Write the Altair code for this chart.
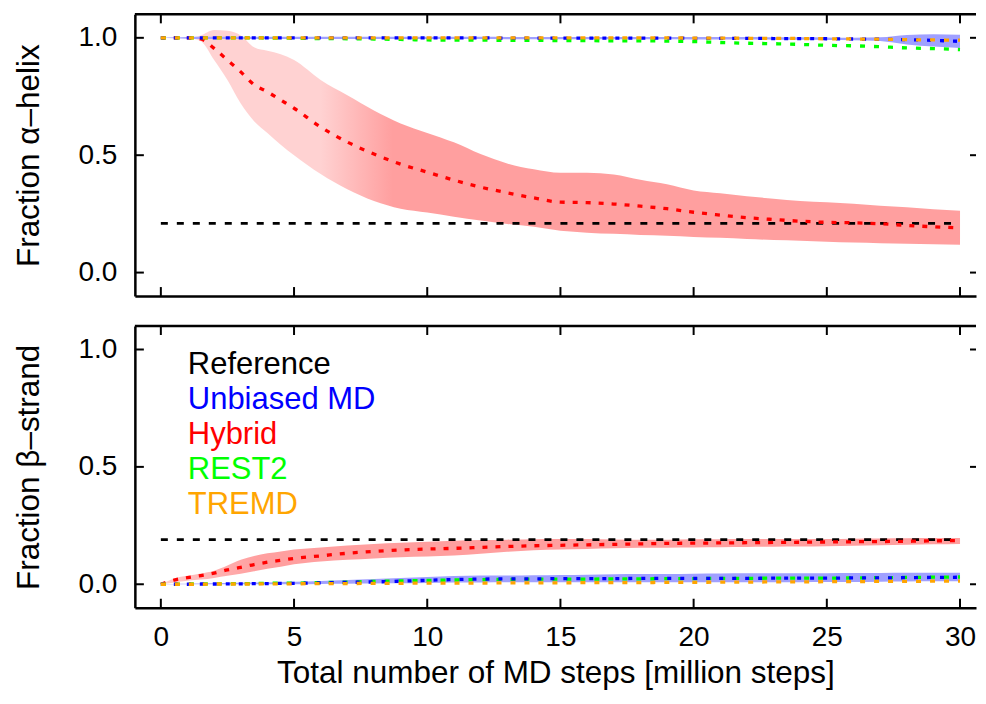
import altair as alt
import pandas as pd

# ---------------- data ----------------
X = [0, 0.5, 1, 1.5, 2, 2.5, 3, 3.5, 4, 4.5, 5, 6, 7, 8, 9, 10, 11, 12, 13, 14,
     15, 16, 17, 18, 19, 20, 21, 22, 23, 24, 25, 26, 27, 28, 29, 30]

# Fraction alpha-helix
helix_ref = 0.21
helix_hyb = [1.0, 1.0, 1.0, 0.995, 0.955, 0.905, 0.855, 0.80, 0.77, 0.735, 0.70, 0.62,
             0.556, 0.505, 0.462, 0.428, 0.394, 0.364, 0.34, 0.318, 0.30, 0.298, 0.292,
             0.283, 0.272, 0.257, 0.245, 0.234, 0.226, 0.219, 0.214, 0.212, 0.208, 0.201,
             0.195, 0.19]
helix_hyb_hi = [1.0, 1.0, 1.0, 1.01, 1.033, 1.03, 1.01, 0.96, 0.945, 0.93, 0.905, 0.82,
                0.755, 0.69, 0.635, 0.595, 0.555, 0.505, 0.465, 0.44, 0.425, 0.425, 0.418,
                0.395, 0.376, 0.35, 0.338, 0.325, 0.315, 0.305, 0.30, 0.293, 0.285, 0.278,
                0.27, 0.263]
helix_hyb_lo = [1.0, 1.0, 1.0, 0.985, 0.905, 0.82, 0.72, 0.645, 0.595, 0.545, 0.50, 0.42,
                0.355, 0.305, 0.272, 0.256, 0.238, 0.222, 0.207, 0.195, 0.178, 0.17, 0.165,
                0.16, 0.157, 0.152, 0.148, 0.143, 0.139, 0.136, 0.131, 0.128, 0.125, 0.123,
                0.121, 0.119]
helix_md = [1.0, 1.0, 1.0, 1.0, 1.0, 1.0, 1.0, 1.0, 1.0, 1.0, 1.0, 1.0, 1.0, 1.0, 1.0,
            1.0, 1.0, 1.0, 0.999, 0.999, 0.999, 0.999, 0.999, 0.999, 0.999, 0.998, 0.998,
            0.998, 0.997, 0.997, 0.996, 0.995, 0.994, 0.992, 0.989, 0.985]
helix_md_hi = [1.0, 1.002, 1.004, 1.005, 1.005, 1.005, 1.005, 1.005, 1.005, 1.005, 1.005,
               1.005, 1.005, 1.005, 1.005, 1.005, 1.005, 1.005, 1.004, 1.004, 1.004, 1.004,
               1.004, 1.004, 1.004, 1.003, 1.003, 1.003, 1.002, 1.002, 1.001, 1.0, 1.002,
               1.012, 1.015, 1.013]
helix_md_lo = [1.0, 0.998, 0.996, 0.995, 0.995, 0.995, 0.995, 0.995, 0.995, 0.995, 0.995,
               0.995, 0.995, 0.995, 0.995, 0.995, 0.995, 0.995, 0.994, 0.994, 0.994, 0.994,
               0.994, 0.994, 0.994, 0.993, 0.993, 0.993, 0.992, 0.992, 0.991, 0.99, 0.986,
               0.972, 0.963, 0.957]
helix_rest2 = [1.0, 1.0, 1.0, 1.0, 1.0, 1.0, 1.0, 1.0, 0.999, 0.999, 0.998, 0.997, 0.996,
               0.995, 0.993, 0.991, 0.99, 0.99, 0.989, 0.989, 0.988, 0.988, 0.987, 0.987,
               0.986, 0.984, 0.98, 0.977, 0.975, 0.972, 0.968, 0.966, 0.962, 0.957, 0.954,
               0.95]
helix_tremd = [1.0, 1.0, 1.0, 1.0, 1.0, 1.0, 1.0, 1.0, 1.0, 1.0, 1.0, 1.0, 1.0, 1.0, 1.0,
               1.0, 1.0, 1.0, 1.0, 1.0, 1.0, 1.0, 1.0, 1.0, 1.0, 0.999, 0.999, 0.998, 0.998,
               0.997, 0.996, 0.995, 0.994, 0.992, 0.991, 0.99]

# Fraction beta-strand
strand_ref = 0.19
strand_hyb = [0.0, 0.018, 0.028, 0.037, 0.047, 0.061, 0.072, 0.084, 0.094, 0.102, 0.11,
              0.121, 0.132, 0.14, 0.146, 0.15, 0.153, 0.157, 0.161, 0.164, 0.166, 0.168,
              0.17, 0.172, 0.174, 0.175, 0.176, 0.177, 0.178, 0.179, 0.18, 0.181, 0.182,
              0.183, 0.185, 0.186]
strand_hyb_hi = [0.0, 0.025, 0.036, 0.046, 0.058, 0.08, 0.104, 0.12, 0.132, 0.14, 0.148,
                 0.157, 0.165, 0.172, 0.177, 0.181, 0.185, 0.188, 0.19, 0.192, 0.193, 0.193,
                 0.191, 0.19, 0.19, 0.192, 0.192, 0.193, 0.193, 0.193, 0.193, 0.194, 0.195,
                 0.196, 0.197, 0.197]
strand_hyb_lo = [0.0, 0.008, 0.015, 0.02, 0.027, 0.036, 0.045, 0.055, 0.066, 0.075, 0.085,
                 0.097, 0.104, 0.11, 0.115, 0.118, 0.122, 0.13, 0.138, 0.145, 0.148, 0.15,
                 0.153, 0.155, 0.156, 0.157, 0.158, 0.159, 0.16, 0.161, 0.162, 0.164, 0.166,
                 0.168, 0.17, 0.172]
strand_md = [0.0, 0.0, 0.0, 0.001, 0.001, 0.002, 0.002, 0.003, 0.003, 0.004, 0.004, 0.006,
             0.008, 0.01, 0.013, 0.017, 0.02, 0.022, 0.023, 0.023, 0.024, 0.024, 0.024,
             0.025, 0.025, 0.025, 0.025, 0.025, 0.026, 0.026, 0.026, 0.027, 0.027, 0.028,
             0.029, 0.03]
strand_md_hi = [0.0, 0.001, 0.002, 0.003, 0.004, 0.005, 0.006, 0.007, 0.008, 0.01, 0.011,
                0.014, 0.018, 0.022, 0.027, 0.031, 0.035, 0.037, 0.037, 0.038, 0.039, 0.041,
                0.043, 0.044, 0.044, 0.045, 0.046, 0.047, 0.047, 0.047, 0.047, 0.048, 0.048,
                0.049, 0.049, 0.049]
strand_md_lo = [0.0, 0.0, 0.0, 0.0, 0.0, 0.0, 0.0, 0.0, 0.0, 0.0, 0.0, 0.001, 0.002, 0.003,
                0.004, 0.005, 0.007, 0.008, 0.009, 0.009, 0.009, 0.009, 0.009, 0.009, 0.009,
                0.009, 0.009, 0.009, 0.009, 0.009, 0.01, 0.01, 0.011, 0.012, 0.013, 0.013]
strand_rest2 = [0.0, 0.0, 0.001, 0.001, 0.002, 0.002, 0.003, 0.003, 0.004, 0.005, 0.005,
                0.007, 0.009, 0.012, 0.014, 0.016, 0.018, 0.02, 0.021, 0.022, 0.022, 0.022,
                0.023, 0.023, 0.024, 0.024, 0.025, 0.025, 0.026, 0.026, 0.026, 0.027, 0.028,
                0.029, 0.03, 0.031]
strand_tremd = [0.0, 0.0, 0.0, 0.0, 0.001, 0.001, 0.001, 0.001, 0.002, 0.002, 0.002, 0.003,
                0.003, 0.004, 0.004, 0.005, 0.005, 0.005, 0.006, 0.006, 0.006, 0.007, 0.007,
                0.007, 0.008, 0.008, 0.009, 0.009, 0.01, 0.01, 0.011, 0.011, 0.012, 0.012,
                0.013, 0.013]

legend_names = ["Reference", "Unbiased MD", "Hybrid", "REST2", "TREMD"]
legend_colors = ["#000000", "#0000ff", "#ff0000", "#00ff00", "#ffa500"]

XTICKS = [0, 5, 10, 15, 20, 25, 30]
YTICKS = [0.0, 0.5, 1.0]

# ---------------- styling ----------------
FONT = "Liberation Sans"
W, H = 842, 282
XDOM = [-0.975, 30.6]
YDOM = [-0.1, 1.1]
RED_LIGHT = "#ffd2d2"
RED_DARK = "#ff9f9f"
BLUE_BAND = "#a0a0ff"


def panel(hyb, hyb_hi, hyb_lo, md, md_hi, md_lo, rest2, tremd, ref, ytitle,
          bottom, red_stops, legend):
    df = pd.DataFrame({"x": X, "hyb": hyb, "hyb_hi": hyb_hi, "hyb_lo": hyb_lo,
                       "md": md, "md_hi": md_hi, "md_lo": md_lo,
                       "rest2": rest2, "tremd": tremd})
    xs = alt.Scale(domain=XDOM, nice=False, zero=False)
    ys = alt.Scale(domain=YDOM, nice=False, zero=False)
    if bottom:
        xaxis = alt.Axis(values=XTICKS, format="d", ticks=False, grid=False,
                         labelPadding=16, title="Total number of MD steps [million steps]",
                         titlePadding=6)
    else:
        xaxis = alt.Axis(values=XTICKS, ticks=False, grid=False, labels=False, title="")
    yaxis = alt.Axis(values=YTICKS, format=".1f", ticks=False, grid=False,
                     labelPadding=18, title=ytitle, titlePadding=33)

    def xe(field):
        return alt.X(field + ":Q", scale=xs, axis=xaxis)

    def ye(field):
        return alt.Y(field + ":Q", scale=ys, axis=yaxis)

    base = alt.Chart(df)

    red_band = base.mark_area(
        interpolate="monotone",
        color=alt.LinearGradient(
            gradient="linear",
            stops=[alt.GradientStop(color=c, offset=o) for o, c in red_stops],
            x1=0, x2=1, y1=0, y2=0),
    ).encode(x=xe("x"), y=ye("hyb_lo"), y2="hyb_hi:Q")
    blue_band = base.mark_area(interpolate="monotone", color=BLUE_BAND).encode(
        x=xe("x"), y=ye("md_lo"), y2="md_hi:Q")

    ref_df = pd.DataFrame({"x": [X[0], X[-1]], "y": [ref, ref]})
    ref_line = alt.Chart(ref_df).mark_line(color="black", strokeWidth=2.8,
                                           strokeDash=[7, 9]).encode(
        x=xe("x"), y=ye("y"))

    def dline(field, color, dash):
        return base.mark_line(color=color, strokeWidth=3.3, strokeDash=dash,
                              interpolate="monotone").encode(x=xe("x"), y=ye(field))

    red_line = dline("hyb", "#ff0000", [5, 8])
    blue_line = dline("md", "#0000ff", [4, 9])
    green_line = dline("rest2", "#00ff00", [5, 9])
    orange_line = dline("tremd", "#ffa500", [5, 9])

    xt = pd.DataFrame({"x": XTICKS})
    yt = pd.DataFrame({"y": YTICKS})
    tk = dict(color="black", strokeWidth=2)
    bot_ticks = alt.Chart(xt).mark_rule(**tk).encode(
        x=xe("x"), y=alt.value(H), y2=alt.value(H - 9))
    top_ticks = alt.Chart(xt).mark_rule(**tk).encode(
        x=xe("x"), y=alt.value(0), y2=alt.value(9))
    left_ticks = alt.Chart(yt).mark_rule(**tk).encode(
        y=ye("y"), x=alt.value(0), x2=alt.value(9))
    right_ticks = alt.Chart(yt).mark_rule(**tk).encode(
        y=ye("y"), x=alt.value(W - 6), x2=alt.value(W))
    top_border = alt.Chart(pd.DataFrame({"t": [0]})).mark_rule(
        color="black", strokeWidth=2.5).encode(
        x=alt.value(0), x2=alt.value(W), y=alt.value(0))

    layers = [red_band, blue_band, ref_line, red_line, green_line, blue_line,
              orange_line, bot_ticks, top_ticks, left_ticks, right_ticks, top_border]

    if legend:
        ldf = pd.DataFrame({"name": legend_names, "col": legend_colors,
                            "i": list(range(len(legend_names)))})
        leg = alt.Chart(ldf).mark_text(align="left", baseline="alphabetic",
                                       font=FONT, fontSize=31).transform_calculate(
            py="48 + 35 * datum.i").encode(
            x=alt.value(53),
            y=alt.Y("py:Q", scale=None),
            text="name:N",
            color=alt.Color("col:N", scale=None, legend=None))
        layers.append(leg)

    return alt.layer(*layers).properties(width=W, height=H)


top = panel(helix_hyb, helix_hyb_hi, helix_hyb_lo, helix_md, helix_md_hi, helix_md_lo,
            helix_rest2, helix_tremd, helix_ref, "Fraction α–helix", False,
            [(0, RED_LIGHT), (0.2, RED_LIGHT), (0.29, RED_DARK), (1, RED_DARK)], False)
bot = panel(strand_hyb, strand_hyb_hi, strand_hyb_lo, strand_md, strand_md_hi, strand_md_lo,
            strand_rest2, strand_tremd, strand_ref, "Fraction β–strand", True,
            [(0, RED_LIGHT), (0.04, "#ffbcbc"), (0.12, RED_DARK), (1, RED_DARK)], True)

chart = alt.vconcat(top, bot, spacing=27).properties(
    padding={"left": 5, "top": 4, "right": 0, "bottom": 0}
).configure(font=FONT).configure_view(stroke=None).configure_axis(
    labelFont=FONT, titleFont=FONT, labelFontSize=28, titleFontSize=31.5,
    titleFontWeight="normal", labelColor="black", titleColor="black",
    domainColor="black", domainWidth=2.5)

chart.save("out.html", embed_options={"renderer": "svg", "actions": False})
